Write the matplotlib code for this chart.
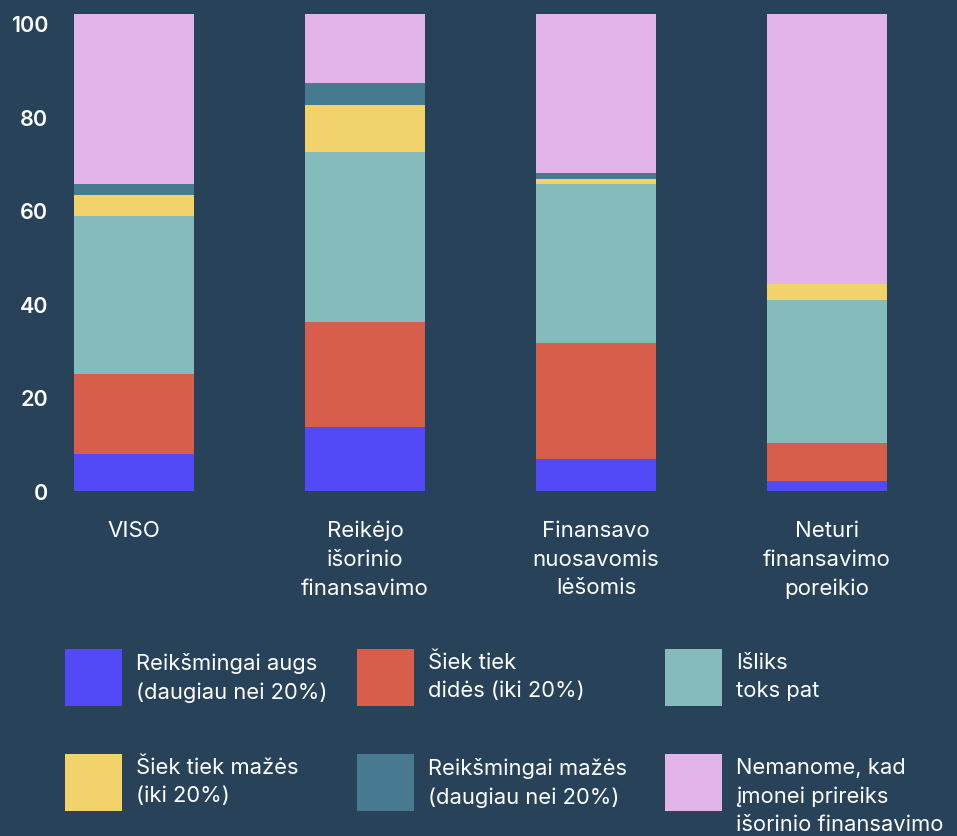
import matplotlib
matplotlib.use('Agg')
import matplotlib.pyplot as plt
from matplotlib.patches import Rectangle
import numpy as np

# Categories (x axis)
categories = ['VISO', 'Reikėjo\nišorinio\nfinansavimo', 'Finansavo\nnuosavomis\nlėšomis',
              'Neturi\nfinansavimo\nporeikio']

# Series, bottom to top
series_names = ['Reikšmingai augs\n(daugiau nei 20%)', 'Šiek tiek\ndidės (iki 20%)', 'Išliks\ntoks pat',
                'Šiek tiek mažės\n(iki 20%)', 'Reikšmingai mažės\n(daugiau nei 20%)',
                'Nemanome, kad\nįmonei prireiks\nišorinio finansavimo']
reiksmingai_augs = [7.9, 13.6, 6.8, 2.1]
siek_tiek_dides = [17.1, 22.5, 24.8, 8.1]
isliks = [33.8, 36.4, 34.0, 30.6]
siek_tiek_mazes = [4.5, 10.1, 1.1, 3.5]
reiksmingai_mazes = [2.4, 4.7, 1.3, 0.0]
nemanome = [36.3, 14.7, 34.0, 57.7]

y_ticks = [0, 20, 40, 60, 80, 100]

colors = ['#5349F7', '#D65E4A', '#85BBBA', '#F1D26B', '#477A90', '#E3B4EA']
bg = '#274259'

plt.rcParams['font.family'] = ['Inter', 'DejaVu Sans']

fig = plt.figure(figsize=(9.57, 8.37), dpi=100, facecolor=bg)
W, H = 957, 837
ax = fig.add_axes([62 / W, (H - 491.7) / H, (945 - 62) / W, (491.7 - 15) / H])
ax.set_facecolor(bg)

data = [reiksmingai_augs, siek_tiek_dides, isliks, siek_tiek_mazes, reiksmingai_mazes, nemanome]
x = np.arange(len(categories))
bottom = np.zeros(len(categories))
for vals, c in zip(data, colors):
    ax.bar(x, vals, width=0.52, bottom=bottom, color=c, linewidth=0)
    bottom += np.array(vals)

ax.set_xlim(-0.312, 3.511)
ax.set_ylim(0, 102)
ax.set_yticks(y_ticks)
ax.set_yticklabels([str(t) for t in y_ticks], color='white', fontsize=15.5, fontweight='semibold')
ax.set_xticks(x)
ax.set_xticklabels(categories, color='white', fontsize=16, linespacing=1.55, va='top')
ax.tick_params(axis='both', length=0)
ax.tick_params(axis='y', pad=10)
ax.tick_params(axis='x', pad=21)
for s in ax.spines.values():
    s.set_visible(False)

# legend drawn by hand: 3 columns x 2 rows
col_x = [65, 357, 665]
row_y = [650, 755]
for i, (name, c) in enumerate(zip(series_names, colors)):
    px = col_x[i % 3]
    py = row_y[i // 3]
    fig.patches.append(Rectangle((px / W, (H - py - 57) / H), 57 / W, 57 / H,
                                 transform=fig.transFigure, facecolor=c, linewidth=0))
    fig.text((px + 71) / W, (H - py - 3) / H, name, color='white', fontsize=15.8,
             va='top', ha='left', linespacing=1.5)

fig.savefig('out.png', dpi=100, facecolor=bg)
